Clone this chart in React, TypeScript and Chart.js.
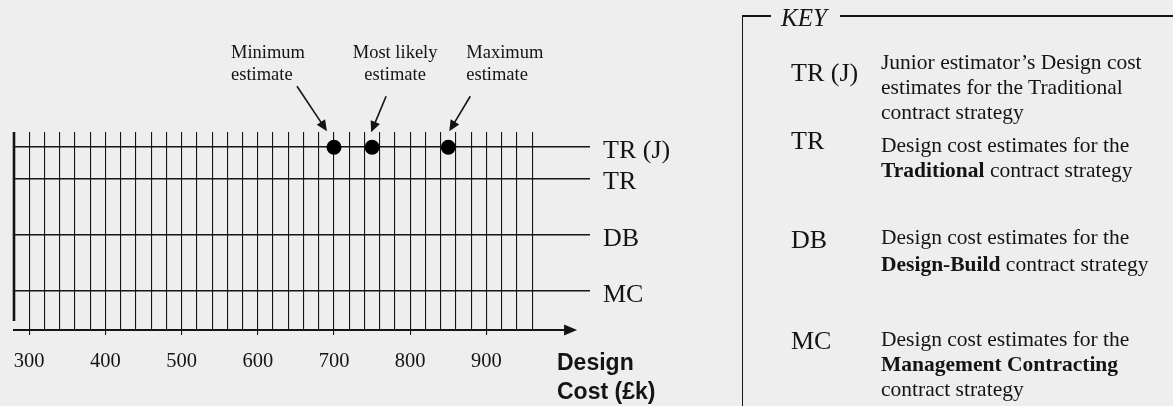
import React, { useEffect, useRef } from 'react';
import { Chart, registerables } from 'chart.js';

Chart.register(...registerables);

// ---------- data ----------
const rowNames = ['TR (J)', 'TR', 'DB', 'MC'];
const rowLevels = [0.77, 2.34, 5.2, 8.03];
const trjEstimates = [700, 750, 850]; // minimum, most likely, maximum
const estimateNames = [
  ['Minimum', 'estimate'],
  ['Most likely', 'estimate'],
  ['Maximum', 'estimate'],
];
const xTickValues = [300, 400, 500, 600, 700, 800, 900];
const gridFirst = 280;
const gridLast = 960;
const gridStep = 20;
const xAxisTitle = ['Design', 'Cost (£k)'];
const keyTitle = 'KEY';
const keyCodes = ['TR (J)', 'TR', 'DB', 'MC'];
const keyTexts = [
  ['Junior estimator’s Design cost', 'estimates for the Traditional', 'contract strategy'],
  ['Design cost estimates for the', '**Traditional** contract strategy'],
  ['Design cost estimates for the', '**Design-Build** contract strategy'],
  ['Design cost estimates for the', '**Management Contracting**', 'contract strategy'],
];

// ---------- styling / layout ----------
const W = 1173;
const H = 406;
const INK = '#141414';
const BG = '#eeeeee';
const SERIF = '"Liberation Serif", "Times New Roman", serif';
const SANS = '"Liberation Sans", Arial, sans-serif';

function arrowHead(ctx: CanvasRenderingContext2D, fx: number, fy: number, tx: number, ty: number, len: number, half: number) {
  const a = Math.atan2(ty - fy, tx - fx);
  const bx = tx - Math.cos(a) * len;
  const by = ty - Math.sin(a) * len;
  ctx.beginPath();
  ctx.moveTo(tx, ty);
  ctx.lineTo(bx + Math.sin(a) * half, by - Math.cos(a) * half);
  ctx.lineTo(bx - Math.sin(a) * half, by + Math.cos(a) * half);
  ctx.closePath();
  ctx.fill();
}

// annotation geometry relative to each dot: [tipDx, tipDy, tailDx, tailDy, textDx, align]
const annoGeom: [number, number, number, number, number, CanvasTextAlign][] = [
  [-7, -16, -37, -61, -103, 'left'],
  [-1, -15, 14, -51, 23, 'center'],
  [1, -16, 22, -51, 18, 'left'],
];

const decorPlugin = {
  id: 'decor',
  afterDraw(chart: any) {
    const { ctx, chartArea } = chart;
    const x = chart.scales.x;
    const y = chart.scales.y;
    ctx.save();
    ctx.strokeStyle = INK;
    ctx.fillStyle = INK;
    // left (vertical) axis, stopping short of the x axis
    const lx = x.getPixelForValue(gridFirst);
    ctx.lineWidth = 2.6;
    ctx.beginPath();
    ctx.moveTo(lx, chartArea.top);
    ctx.lineTo(lx, chartArea.bottom - 9);
    ctx.stroke();
    // x axis with arrow
    const ay = chartArea.bottom;
    const tipX = x.getPixelForValue(1019);
    ctx.lineWidth = 2.2;
    ctx.beginPath();
    ctx.moveTo(chartArea.left - 1, ay);
    ctx.lineTo(tipX - 8, ay);
    ctx.stroke();
    arrowHead(ctx, tipX - 20, ay, tipX, ay, 13, 5.5);

    // axis title
    ctx.font = `bold 23px ${SANS}`;
    ctx.textAlign = 'left';
    ctx.textBaseline = 'middle';
    ctx.fillText(xAxisTitle[0], 557, 364);
    ctx.fillText(xAxisTitle[1], 557, 393);

    // annotations
    const py = y.getPixelForValue(rowLevels[0]);
    ctx.font = `18.5px ${SERIF}`;
    trjEstimates.forEach((v, i) => {
      const px = x.getPixelForValue(v);
      const [tdx, tdy, sdx, sdy, txd, align] = annoGeom[i];
      ctx.lineWidth = 1.6;
      ctx.beginPath();
      ctx.moveTo(px + sdx, py + sdy);
      const a = Math.atan2(tdy - sdy, tdx - sdx);
      ctx.lineTo(px + tdx - Math.cos(a) * 8, py + tdy - Math.sin(a) * 8);
      ctx.stroke();
      arrowHead(ctx, px + sdx, py + sdy, px + tdx, py + tdy, 11, 5);
      ctx.textAlign = align;
      ctx.textBaseline = 'middle';
      ctx.fillText(estimateNames[i][0], px + txd, py - 94);
      ctx.fillText(estimateNames[i][1], px + txd, py - 72);
    });
    ctx.restore();
  },
};

function KeyText({ text }: { text: string }) {
  const parts = text.split('**');
  return (
    <>
      {parts.map((p, i) => (i % 2 === 1 ? <b key={i}>{p}</b> : <span key={i}>{p}</span>))}
    </>
  );
}

const keyCodeTops = [58, 126, 225, 326];
const keyTextTops = [50, 133, 224, 327];

export default function App() {
  const ref = useRef<HTMLCanvasElement>(null);
  useEffect(() => {
    if (!ref.current) return;
    const chart = new Chart(ref.current, {
      type: 'scatter',
      data: {
        datasets: [
          {
            data: trjEstimates.map((v) => ({ x: v, y: rowLevels[0] })),
            backgroundColor: '#000',
            borderWidth: 0,
            pointRadius: 7.5,
            pointHoverRadius: 7.5,
            showLine: false,
            clip: false as any,
          },
        ],
      },
      options: {
        animation: false,
        responsive: false,
        devicePixelRatio: 1,
        events: [],
        layout: { padding: { left: 13, top: 132, right: W - 590 - 110, bottom: 0 } },
        plugins: { legend: { display: false }, tooltip: { enabled: false }, title: { display: false } },
        scales: {
          x: {
            type: 'linear',
            min: gridFirst,
            max: 1036,
            afterFit: (s: any) => {
              s.height = 76;
            },
            afterBuildTicks: (s: any) => {
              const t = [];
              for (let v = gridFirst; v <= gridLast; v += gridStep) t.push({ value: v });
              s.ticks = t;
            },
            border: { display: false },
            grid: {
              color: (c: any) => (c.tick && c.tick.value === gridFirst ? 'rgba(0,0,0,0)' : INK),
              lineWidth: 1.1,
              tickColor: (c: any) => (c.tick && xTickValues.includes(c.tick.value) ? INK : 'rgba(0,0,0,0)'),
              tickLength: 5,
              drawTicks: true,
            },
            ticks: {
              autoSkip: false,
              maxRotation: 0,
              padding: 14,
              color: INK,
              font: { family: SERIF, size: 20.5 },
              callback: (v: any) => (xTickValues.includes(Number(v)) ? String(v) : ''),
            },
          },
          y: {
            type: 'linear',
            position: 'right',
            reverse: true,
            min: 0,
            max: 10,
            afterFit: (s: any) => {
              s.width = 110;
            },
            afterBuildTicks: (s: any) => {
              s.ticks = rowLevels.map((v) => ({ value: v }));
            },
            border: { display: false },
            grid: { color: INK, lineWidth: 1.6, drawTicks: false },
            ticks: {
              padding: 13,
              labelOffset: 4,
              color: INK,
              font: { family: SERIF, size: 26 },
              callback: (_v: any, i: number) => rowNames[i],
            },
          },
        },
      },
      plugins: [decorPlugin],
    });
    return () => chart.destroy();
  }, []);

  const lineStyle: React.CSSProperties = { position: 'absolute', background: INK };
  return (
    <div style={{ position: 'absolute', left: 0, top: 0, width: W, height: H, background: BG, overflow: 'hidden', fontFamily: SERIF, color: INK }}>
      <canvas ref={ref} width={W} height={H} style={{ position: 'absolute', left: 0, top: 0, width: W, height: H }} />
      {/* key frame */}
      <div style={{ ...lineStyle, left: 742, top: 15, width: 29, height: 1.6 }} />
      <div style={{ ...lineStyle, left: 840, top: 15, width: W - 840, height: 1.6 }} />
      <div style={{ ...lineStyle, left: 741.5, top: 15, width: 1.8, height: H - 15 }} />
      <div style={{ position: 'absolute', left: 781, top: 3, fontStyle: 'italic', fontSize: 25, lineHeight: '30px', whiteSpace: 'nowrap' }}>{keyTitle}</div>
      {keyCodes.map((c, i) => (
        <div key={c} style={{ position: 'absolute', left: 791, top: keyCodeTops[i], fontSize: 26, lineHeight: '30px', whiteSpace: 'nowrap' }}>
          {c}
        </div>
      ))}
      {keyTexts.map((lines, i) => (
        <div key={i} style={{ position: 'absolute', left: 881, top: keyTextTops[i], fontSize: 21.5, lineHeight: i === 2 ? '26.5px' : '25px', whiteSpace: 'nowrap' }}>
          {lines.map((l, j) => (
            <div key={j}>
              <KeyText text={l} />
            </div>
          ))}
        </div>
      ))}
    </div>
  );
}
